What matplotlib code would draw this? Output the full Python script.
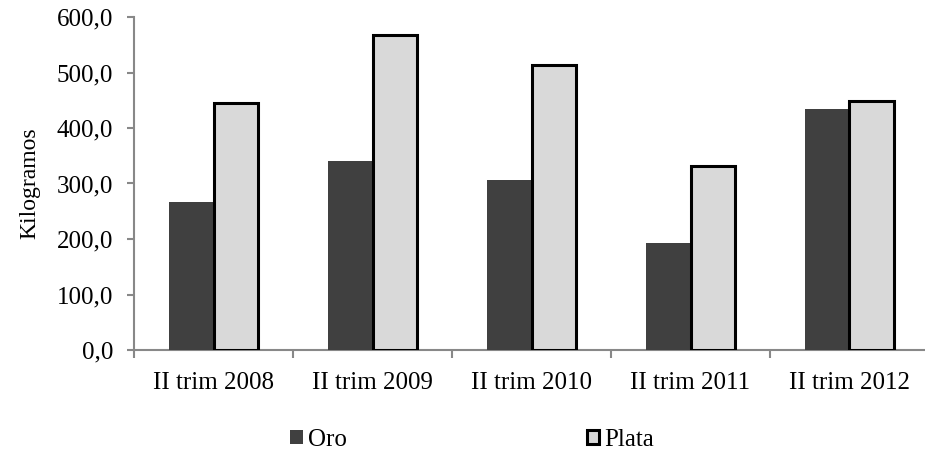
import numpy as np
import matplotlib
matplotlib.use("Agg")
import matplotlib.pyplot as plt
from matplotlib.ticker import FuncFormatter

# =====================================================
# DATA
# =====================================================

categories = ["II trim 2008", "II trim 2009", "II trim 2010", "II trim 2011", "II trim 2012"]

oro = [267, 340, 306, 193, 435]

plata = [445, 567, 513, 332, 448]

# =====================================================
# FIGURE
# =====================================================

plt.rcParams['font.family'] = ['Liberation Serif', 'DejaVu Serif']

fig = plt.figure(figsize=(9.25, 4.54), dpi=100)

ax = fig.add_axes([134 / 925, 104 / 454, 795 / 925, 333 / 454])

x = np.arange(len(categories))
width = 0.283

ax.bar(x - width / 2, oro, width, color='#404040', label='Oro', zorder=3)

ax.bar(x + width / 2, plata, width, color='#d9d9d9', edgecolor='black',
       linewidth=2.2, label='Plata', zorder=3)

ax.set_xlim(-0.5, len(categories) - 0.5)
ax.set_ylim(0, 600)

ax.set_yticks(np.arange(0, 601, 100))
ax.yaxis.set_major_formatter(FuncFormatter(lambda v, p: f"{v:.1f}".replace('.', ',')))

ax.set_xticks(x)
ax.set_xticklabels(categories)
ax.set_xticks(np.arange(-0.5, len(categories), 1), minor=True)
ax.tick_params(axis='x', which='major', length=0, pad=16, labelsize=18)
ax.tick_params(axis='x', which='minor', length=6, width=1.5, color='#888888', direction='out')
ax.tick_params(axis='y', length=5, width=1.5, color='#888888', pad=10, labelsize=18)

for side in ['top', 'right']:
    ax.spines[side].set_visible(False)
for side in ['left', 'bottom']:
    ax.spines[side].set_color('#888888')
    ax.spines[side].set_linewidth(1.5)

ax.set_ylabel("Kilogramos", fontsize=17, labelpad=12)

fig.legend(loc='center', bbox_to_anchor=(472 / 925, 1 - 440 / 454), ncol=2,
           frameon=False, prop={'family': 'Liberation Serif', 'size': 18},
           handlelength=0.5, handleheight=0.5,
           handletextpad=0.2, columnspacing=9.6)

fig.savefig("out.png", dpi=100)
